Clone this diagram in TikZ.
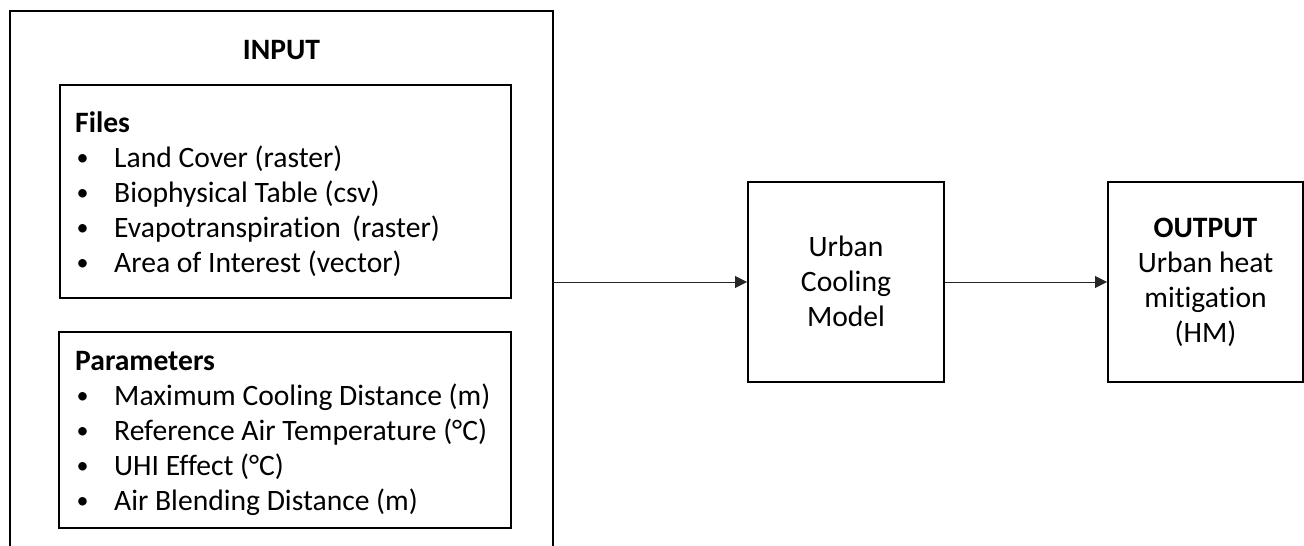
\documentclass[tikz,border=0pt]{standalone}
\usepackage{fontspec}
\setmainfont{Carlito}[Ligatures=NoCommon]
\usetikzlibrary{arrows.meta}
\tikzset{
  box/.style={draw=black, line width=2pt, inner sep=0pt},
  txt/.style={font=\fontsize{29.6}{35}\selectfont, inner sep=0pt, anchor=base west},
  ctxt/.style={font=\fontsize{29.6}{35}\selectfont, inner sep=0pt, align=center},
  arr/.style={draw=black!85, line width=1pt, -{Triangle[length=12pt,width=12pt]}}
}
\newcommand{\bul}{\makebox[39pt][l]{\hspace{1.5pt}\raisebox{1.5pt}{\fontsize{24}{24}\selectfont •}}}
\begin{document}
\begin{tikzpicture}[x=1pt,y=-1pt]
\useasboundingbox (0,0) rectangle (1304,546);
% outer INPUT box (open at the bottom)
\draw[line width=2pt] (10,546) -- (10,11) -- (553,11) -- (553,546);
\node[txt, anchor=base] (inputtitle) at (281.5,59.5) {\textbf{INPUT}};
% Files box
\node[box, minimum width=451pt, minimum height=213pt] (files) at (285.5,191.5) {};
\node[txt] (fh) at (75,132) {\textbf{Files}};
\node[txt] (f1) at (75,167) {\bul Land Cover (raster)};
\node[txt] (f2) at (75,202) {\bul Biophysical Table (csv)};
\node[txt] (f3) at (75,237) {\bul Evapotranspiration\hspace{0.15em} (raster)};
\node[txt] (f4) at (75,272) {\bul Area of Interest (vector)};
% Parameters box
\node[box, minimum width=452pt, minimum height=196pt] (params) at (285,430) {};
\node[txt] (ph) at (75,370) {\textbf{Parameters}};
\node[txt] (p1) at (75,405) {\bul Maximum Cooling Distance (m)};
\node[txt] (p2) at (75,440) {\bul Reference Air Temperature (°C)};
\node[txt] (p3) at (75,475) {\bul UHI Effect (°C)};
\node[txt] (p4) at (75,510) {\bul Air Blending Distance (m)};
% model and output
\node[box, minimum width=196pt, minimum height=200pt] (ucm) at (846,282) {};
\node[ctxt] (ucmtext) at (846,281) {Urban\\Cooling\\Model};
\node[box, minimum width=195pt, minimum height=200pt] (out) at (1205.5,282) {};
\node[ctxt] (outtext) at (1205.5,282) {\textbf{OUTPUT}\\Urban heat\\mitigation\\(HM)};
% connectors
\coordinate (inR) at (553,282);
\draw[arr] (inR) -- (ucm.west);
\draw[arr] (ucm.east) -- (out.west);
\end{tikzpicture}
\end{document}
